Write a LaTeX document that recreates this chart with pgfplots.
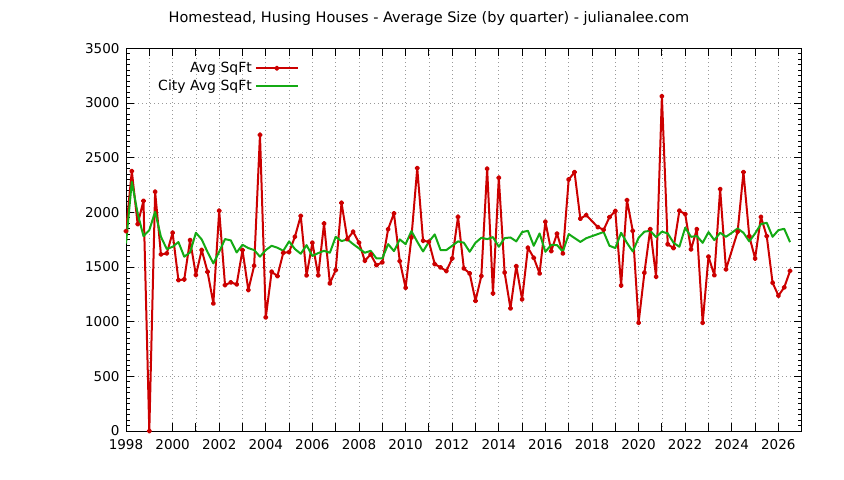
\documentclass[border=0pt]{standalone}
\usepackage{fontspec}
\setmainfont{DejaVu Sans}
\usepackage{pgfplots}
\pgfplotsset{compat=1.18}
\definecolor{avgred}{RGB}{204,0,0}
\definecolor{citygreen}{RGB}{20,170,20}

% quarterly average size, Homestead
\pgfplotstableread{
year sqft
1998.00 1828
1998.25 2377
1998.50 1892
1998.75 2105
1999.00 0
1999.25 2188
1999.50 1615
1999.75 1624
2000.00 1813
2000.25 1380
2000.50 1386
2000.75 1746
2001.00 1426
2001.25 1655
2001.50 1456
2001.75 1167
2002.00 2014
2002.25 1335
2002.50 1359
2002.75 1341
2003.00 1655
2003.25 1289
2003.50 1511
2003.75 2709
2004.00 1039
2004.25 1456
2004.50 1417
2004.75 1630
2005.00 1636
2005.25 1776
2005.50 1968
2005.75 1423
2006.00 1722
2006.25 1423
2006.50 1898
2006.75 1350
2007.00 1472
2007.25 2087
2007.50 1755
2007.75 1822
2008.00 1722
2008.25 1557
2008.50 1615
2008.75 1517
2009.00 1542
2009.25 1846
2009.50 1990
2009.75 1554
2010.00 1310
2010.25 1770
2010.50 2404
2010.75 1740
2011.00 1731
2011.25 1527
2011.50 1496
2011.75 1463
2012.00 1578
2012.25 1959
2012.50 1487
2012.75 1441
2013.00 1191
2013.25 1417
2013.50 2398
2013.75 1258
2014.00 2316
2014.25 1450
2014.50 1121
2014.75 1508
2015.00 1204
2015.25 1676
2015.50 1584
2015.75 1441
2016.00 1914
2016.25 1645
2016.50 1805
2016.75 1624
2017.00 2300
2017.25 2367
2017.50 1942
2017.75 1974
2018.25 1865
2018.50 1840
2018.75 1956
2019.00 2012
2019.25 1330
2019.50 2112
2019.75 1830
2020.00 990
2020.25 1448
2020.50 1846
2020.75 1411
2021.00 3062
2021.25 1708
2021.50 1673
2021.75 2014
2022.00 1984
2022.25 1661
2022.50 1846
2022.75 990
2023.00 1594
2023.25 1425
2023.50 2212
2023.75 1478
2024.25 1822
2024.50 2367
2024.75 1782
2025.00 1578
2025.25 1958
2025.50 1782
2025.75 1356
2026.00 1238
2026.25 1313
2026.50 1464
}\avgtable

% city-wide average size
\pgfplotstableread{
year sqft
1998.00 1715
1998.25 2279
1998.50 1990
1998.75 1782
1999.00 1837
1999.25 2005
1999.50 1776
1999.75 1664
2000.00 1685
2000.25 1728
2000.50 1594
2000.75 1633
2001.00 1813
2001.25 1752
2001.50 1636
2001.75 1533
2002.00 1639
2002.25 1755
2002.50 1743
2002.75 1633
2003.00 1703
2003.25 1673
2003.50 1655
2003.75 1594
2004.00 1655
2004.25 1694
2004.50 1676
2004.75 1648
2005.00 1734
2005.25 1664
2005.50 1621
2005.75 1700
2006.00 1600
2006.25 1627
2006.50 1648
2006.75 1630
2007.00 1776
2007.25 1737
2007.50 1752
2007.75 1709
2008.00 1670
2008.25 1630
2008.50 1648
2008.75 1578
2009.00 1578
2009.25 1709
2009.50 1645
2009.75 1752
2010.00 1709
2010.25 1828
2010.50 1731
2010.75 1642
2011.00 1731
2011.25 1798
2011.50 1655
2011.75 1655
2012.00 1694
2012.25 1734
2012.50 1722
2012.75 1639
2013.00 1722
2013.25 1767
2013.50 1755
2013.75 1773
2014.00 1685
2014.25 1764
2014.50 1770
2014.75 1734
2015.00 1819
2015.25 1831
2015.50 1694
2015.75 1807
2016.00 1639
2016.25 1703
2016.50 1700
2016.75 1640
2017.00 1801
2017.50 1729
2017.75 1763
2018.50 1820
2018.75 1694
2019.00 1673
2019.25 1813
2019.50 1721
2019.75 1642
2020.00 1767
2020.25 1823
2020.50 1831
2020.75 1773
2021.00 1823
2021.25 1807
2021.50 1721
2021.75 1685
2022.00 1859
2022.25 1776
2022.50 1783
2022.75 1721
2023.00 1819
2023.25 1746
2023.50 1813
2023.75 1776
2024.00 1813
2024.25 1852
2024.50 1813
2024.75 1734
2025.00 1807
2025.25 1892
2025.50 1904
2025.75 1776
2026.00 1837
2026.25 1849
2026.50 1727
}\citytable

\begin{document}
\begin{tikzpicture}
\useasboundingbox (-126bp,-49bp) rectangle (718bp,431bp);
\begin{axis}[
    scale only axis,
    width=675.7bp, height=382.7bp,
    xmin=1998, xmax=2027,
    ymin=0, ymax=3500,
    xtick={1998,1999,...,2026},
    xticklabels={1998,,2000,,2002,,2004,,2006,,2008,,2010,,2012,,2014,,2016,,2018,,2020,,2022,,2024,,2026},
    ytick={0,500,...,3500},
    minor y tick num=9,
    tick align=inside,
    major tick length=8bp,
    minor tick length=4bp,
    tick style={black, line width=0.8bp},
    axis line style={line width=1bp},
    grid=major,
    major grid style={gray!80, line width=0.6bp, dash pattern=on 0.8bp off 3.2bp},
    /pgf/number format/.cd, 1000 sep={}, assume math mode=true, /pgfplots/.cd,
    tick label style={font=\fontsize{13.5bp}{15bp}\selectfont},
    xticklabel style={yshift=-5bp},
    yticklabel style={xshift=-3bp},
    legend plot pos=right,
    legend cell align=right,
    legend style={draw=none, fill=none, at={(0.2605,0.977)}, anchor=north east,
        font=\fontsize{14bp}{16bp}\selectfont, nodes={inner sep=3bp}},
    legend image code/.code={\draw[mark repeat=2,mark phase=2,#1]
        plot coordinates {(0bp,0bp) (21bp,0bp) (42bp,0bp)};},
]
\addplot[avgred, line width=2bp, line join=round, mark=*, mark size=1.6bp] table[x=year, y=sqft] {\avgtable};
\addlegendentry{Avg SqFt}
\addplot[citygreen, line width=2bp, line join=round] table[x=year, y=sqft] {\citytable};
\addlegendentry{City Avg SqFt}
\end{axis}
\node[font=\fontsize{14.5bp}{16bp}\selectfont] at (303bp,412bp)
    {Homestead, Husing Houses - Average Size (by quarter) - julianalee.com};
\end{tikzpicture}
\end{document}
